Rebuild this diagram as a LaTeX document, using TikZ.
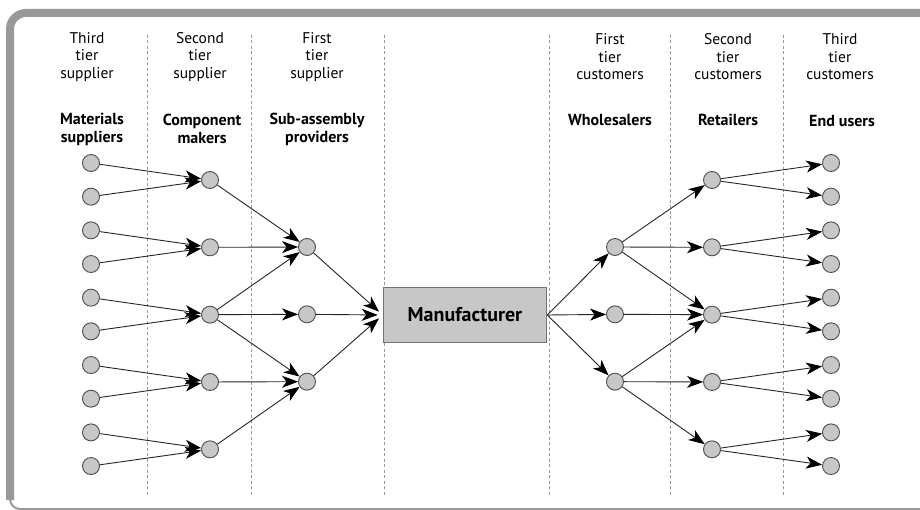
\documentclass[tikz,border=0pt]{standalone}
\usepackage{fontspec}
\setmainfont{PT Sans}
\usetikzlibrary{arrows.meta}

\tikzset{
  firm/.style={circle, draw=black!70, fill=black!22, minimum size=17pt, inner sep=0pt, line width=0.9pt},
  flow/.style={-{Stealth[length=16pt, width=12pt, inset=4.5pt, black]}, black!85, line width=0.9pt},
  tier/.style={align=center, font=\fontsize{15.5}{17.5}\selectfont},
  role/.style={align=center, font=\fontsize{16}{18}\selectfont\bfseries},
  divider/.style={dash pattern=on 3pt off 2.5pt, black!40, line width=1pt},
  frame/.style={black!40, line cap=butt}
}

\begin{document}
\begin{tikzpicture}[x=1pt, y=-1pt]
        \useasboundingbox (0,0) rectangle (920,510);
        % outer frame
        \draw [frame, line width=8pt, rounded corners=16pt] (925,13) -- (10,13) -- (10,500);
        \draw [frame, line width=2pt, rounded corners=10pt] (10,490) -- (10,509) -- (925,509);
        % column dividers
        \foreach \x in {147,251,384,549,670,783}
            \draw [divider] (\x,35) -- (\x,495);
        % headers
        \node [tier] (h1) at (87,57) {Third\\tier\\supplier};
        \node [tier] (h2) at (200,57) {Second\\tier\\supplier};
        \node [tier] (h3) at (317,57) {First\\tier\\supplier};
        \node [tier] (h4) at (610,57) {First\\tier\\customers};
        \node [tier] (h5) at (728,57) {Second\\tier\\customers};
        \node [tier] (h6) at (840,57) {Third\\tier\\customers};
        \node [role] (g1) at (92,129) {Materials\\suppliers};
        \node [role] (g2) at (202,129) {Component\\makers};
        \node [role] (g3) at (317,129) {Sub-assembly\\providers};
        \node [role] (g4) at (610,120) {Wholesalers};
        \node [role] (g5) at (728,120) {Retailers};
        \node [role] (g6) at (842,121) {End users};
        % firms
        \foreach \i in {1,...,10} {
            \node [firm] (m\i) at (91,{163+(\i-1)*33.67}) {};
            \node [firm] (e\i) at (831,{163+(\i-1)*33.67}) {};
        }
        \foreach \i in {1,...,5} {
            \node [firm] (c\i) at (210,{180+(\i-1)*67.33}) {};
            \node [firm] (r\i) at (712,{180+(\i-1)*67.33}) {};
        }
        \foreach \i in {1,2,3} {
            \node [firm] (s\i) at (307,{247+(\i-1)*67.33}) {};
            \node [firm] (w\i) at (615,{247+(\i-1)*67.33}) {};
        }
        \node [draw=black!55, line width=1.5pt, fill=black!22, minimum width=163pt, minimum height=55pt,
            font=\fontsize{20}{22}\selectfont\bfseries] (man) at (465,315) {Manufacturer};
        % flows
        \foreach \i in {1,...,10} {
            \pgfmathtruncatemacro\j{(\i+1)/2}
            \draw [flow] (m\i) -- (c\j);
            \draw [flow] (r\j) -- (e\i);
        }
        \foreach \a/\b in {c1/s1, c2/s1, c3/s1, c3/s2, c3/s3, c4/s3, c5/s3,
                           w1/r1, w1/r2, w1/r3, w2/r3, w3/r3, w3/r4, w3/r5}
            \draw [flow] (\a) -- (\b);
        \foreach \i in {1,2,3} {
            \draw [flow, shorten >=5pt] (s\i) -- (man.west);
            \draw [flow] (man.east) -- (w\i);
        }
    \end{tikzpicture}
\end{document}
